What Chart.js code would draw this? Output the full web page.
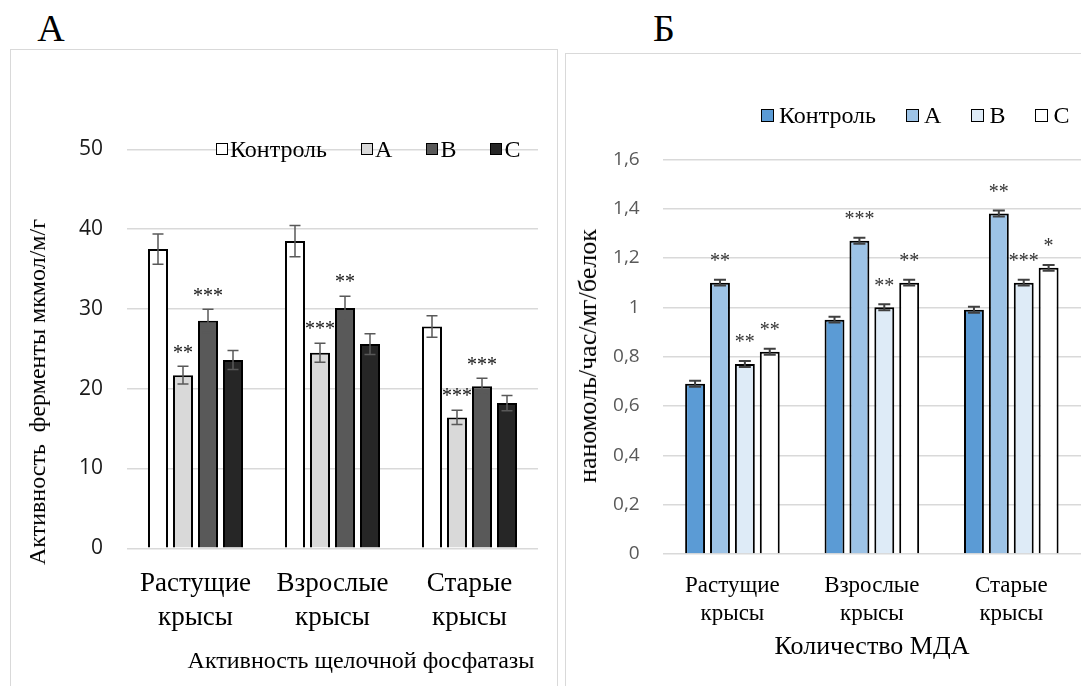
<!DOCTYPE html>
<html>
<head>
<meta charset="utf-8">
<script src="https://cdn.jsdelivr.net/npm/chart.js@4.4.1/dist/chart.umd.min.js"></script>
<style>
  body { margin: 0; background: #fff; width: 1081px; height: 686px; overflow: hidden; position: relative; font-family: 'Liberation Serif', 'Times New Roman', 'DejaVu Serif', serif; }
  .box { position: absolute; border: 1.5px solid #d9d9d9; }
  .lbl { position: absolute; transform: translate(-50%, -50%); white-space: pre; line-height: 1; color: #000; }
  .rot { transform: translate(-50%, -50%) rotate(-90deg); }
  .legend { position: absolute; display: flex; align-items: center; font-size: 24px; line-height: 1; }
  .legend .sq { display: inline-block; box-sizing: border-box; border: 1.5px solid #000; }
  canvas { position: absolute; }
</style>
</head>
<body>
<div class="box" style="left:10px; top:49px; width:546px; height:660px;"></div>
<div class="box" style="left:565px; top:53px; width:560px; height:660px;"></div>

<div class="lbl" style="left:51px; top:28px; font-size:38px;">А</div>
<div class="lbl" style="left:664px; top:28px; font-size:38px;">Б</div>

<canvas id="alpChart" width="545" height="636" style="left:11px; top:50px;"></canvas>
<canvas id="mdaChart" width="515" height="632" style="left:566px; top:54px;"></canvas>

<div class="lbl rot" style="left:37px; top:392px; font-size:24px;">Активность  ферменты мкмол/м/г</div>
<div class="lbl" style="left:361px; top:660px; font-size:24px;">Активность щелочной фосфатазы</div>
<div class="lbl rot" style="left:588px; top:356px; font-size:26px;">наномоль/час/мг/белок</div>
<div class="lbl" style="left:872px; top:646px; font-size:26px;">Количество МДА</div>

<div id="alpLegend" class="legend" style="left:216px; top:137px;"></div>
<div id="mdaLegend" class="legend" style="left:761px; top:103px;"></div>

<script>
// ---- данные ----
const categories = [['Растущие', 'крысы'], ['Взрослые', 'крысы'], ['Старые', 'крысы']];
const seriesNames = ['Контроль', 'А', 'В', 'С'];

// А: активность щелочной фосфатазы
const alpControl = [37.5, 38.5, 27.8];
const alpA = [21.7, 24.5, 16.4];
const alpB = [28.5, 30.1, 20.3];
const alpC = [23.6, 25.6, 18.2];
const alpControlErr = [1.9, 1.95, 1.35];
const alpAErr = [1.1, 1.2, 0.9];
const alpBErr = [1.45, 1.5, 1.0];
const alpCErr = [1.2, 1.3, 0.95];
const alpAStars = ['**', '***', '***'];
const alpBStars = ['***', '**', '***'];
const alpTicks = [0, 10, 20, 30, 40, 50];

// Б: количество МДА
const mdaControl = [0.69, 0.95, 0.99];
const mdaA = [1.10, 1.27, 1.38];
const mdaB = [0.77, 1.00, 1.10];
const mdaC = [0.82, 1.10, 1.16];
const mdaErr = [0.012, 0.012, 0.012];
const mdaAStars = ['**', '***', '**'];
const mdaBStars = ['**', '**', '***'];
const mdaCStars = ['**', '**', '*'];
const mdaTicks = [0, 0.2, 0.4, 0.6, 0.8, 1, 1.2, 1.4, 1.6];

const alpColors = ['#ffffff', '#d9d9d9', '#595959', '#262626'];
const mdaColors = ['#5b9bd5', '#9dc3e6', '#deebf7', '#ffffff'];

const serif = "'Liberation Serif', 'Times New Roman', serif";

// усы и звёздочки поверх столбцов
const errorBarsPlugin = {
  id: 'errorBars',
  afterDatasetsDraw(chart, args, opts) {
    const ctx = chart.ctx;
    const yScale = chart.scales.y;
    chart.data.datasets.forEach((ds, i) => {
      const meta = chart.getDatasetMeta(i);
      meta.data.forEach((bar, j) => {
        const v = ds.data[j];
        const e = ds.errors ? ds.errors[j] : 0;
        const yTop = yScale.getPixelForValue(v + e);
        const yBot = yScale.getPixelForValue(v - e);
        if (e) {
          ctx.save();
          ctx.strokeStyle = opts.color;
          ctx.lineWidth = opts.width;
          ctx.beginPath();
          ctx.moveTo(bar.x, yTop); ctx.lineTo(bar.x, yBot);
          ctx.moveTo(bar.x - opts.cap, yTop); ctx.lineTo(bar.x + opts.cap, yTop);
          ctx.moveTo(bar.x - opts.cap, yBot); ctx.lineTo(bar.x + opts.cap, yBot);
          ctx.stroke();
          ctx.restore();
        }
        const s = ds.stars ? ds.stars[j] : '';
        if (s) {
          ctx.save();
          ctx.fillStyle = opts.starColor;
          ctx.font = opts.starFont;
          ctx.textAlign = 'center';
          ctx.textBaseline = 'middle';
          ctx.fillText(s, bar.x, yTop - opts.starGap);
          ctx.restore();
        }
      });
    });
  }
};

function buildLegend(id, colors, sq, sqGap, itemGap) {
  const el = document.getElementById(id);
  seriesNames.forEach((name, i) => {
    const item = document.createElement('span');
    item.style.display = 'flex';
    item.style.alignItems = 'center';
    item.style.marginRight = itemGap + 'px';
    const box = document.createElement('span');
    box.className = 'sq';
    box.style.width = sq + 'px';
    box.style.height = sq + 'px';
    box.style.background = colors[i];
    box.style.marginRight = sqGap + 'px';
    item.appendChild(box);
    item.appendChild(document.createTextNode(name));
    el.appendChild(item);
  });
}

buildLegend('alpLegend', alpColors, 12, 2, 34);
buildLegend('mdaLegend', mdaColors, 13, 5, 30);

function makeDataset(label, data, color, errors, stars, cp) {
  return {
    label, data, errors, stars,
    backgroundColor: color,
    borderColor: '#000',
    borderWidth: 2,
    barPercentage: 0.8,
    categoryPercentage: cp
  };
}

Chart.defaults.animation = false;

const alpChart = new Chart(document.getElementById('alpChart'), {
  type: 'bar',
  data: {
    labels: categories,
    datasets: [
      makeDataset(seriesNames[0], alpControl, alpColors[0], alpControlErr, null, 0.73),
      makeDataset(seriesNames[1], alpA, alpColors[1], alpAErr, alpAStars, 0.73),
      makeDataset(seriesNames[2], alpB, alpColors[2], alpBErr, alpBStars, 0.73),
      makeDataset(seriesNames[3], alpC, alpColors[3], alpCErr, null, 0.73)
    ]
  },
  options: {
    responsive: false,
    layout: { padding: { top: 99.3, right: 18, left: 0, bottom: 0 } },
    plugins: {
      legend: { display: false },
      tooltip: { enabled: false },
      errorBars: { color: '#595959', width: 1.5, cap: 5.5, starColor: '#111', starFont: '20px ' + serif, starGap: 13 }
    },
    scales: {
      x: {
        grid: { display: false },
        border: { display: false },
        ticks: { color: '#000', padding: 11, font: { family: serif, size: 27, lineHeight: 1.24 } },
        afterFit: (s) => { s.height = 137.7; }
      },
      y: {
        min: 0,
        max: 50,
        afterBuildTicks: (s) => { s.ticks = alpTicks.map(v => ({ value: v })); },
        grid: { color: '#d9d9d9', lineWidth: 1.5, drawTicks: false },
        border: { display: false },
        ticks: { color: '#1a1a1a', padding: 24, font: { family: "'Open Sans'", size: 21 } },
        afterFit: (s) => { s.width = 116; }
      }
    }
  },
  plugins: [errorBarsPlugin]
});

const mdaChart = new Chart(document.getElementById('mdaChart'), {
  type: 'bar',
  data: {
    labels: categories,
    datasets: [
      makeDataset(seriesNames[0], mdaControl, mdaColors[0], mdaErr, null, 0.714),
      makeDataset(seriesNames[1], mdaA, mdaColors[1], mdaErr, mdaAStars, 0.714),
      makeDataset(seriesNames[2], mdaB, mdaColors[2], mdaErr, mdaBStars, 0.714),
      makeDataset(seriesNames[3], mdaC, mdaColors[3], mdaErr, mdaCStars, 0.714)
    ]
  },
  options: {
    responsive: false,
    layout: { padding: { top: 105.3, right: 0, left: 0, bottom: 0 } },
    plugins: {
      legend: { display: false },
      tooltip: { enabled: false },
      errorBars: { color: '#404040', width: 2, cap: 6, starColor: '#333', starFont: '20px ' + serif, starGap: 18 }
    },
    scales: {
      x: {
        grid: { display: false },
        border: { display: false },
        ticks: { color: '#000', padding: 10, font: { family: serif, size: 23, lineHeight: 1.23 } },
        afterFit: (s) => { s.height = 132; }
      },
      y: {
        min: 0,
        max: 1.6,
        afterBuildTicks: (s) => { s.ticks = mdaTicks.map(v => ({ value: v })); },
        grid: { color: '#d9d9d9', lineWidth: 1.5, drawTicks: false },
        border: { display: false },
        ticks: {
          color: '#595959', padding: 23, font: { family: "'Open Sans'", size: 19 },
          callback: (v) => String(Math.round(v * 10) / 10).replace('.', ',')
        },
        afterFit: (s) => { s.width = 96.7; }
      }
    }
  },
  plugins: [errorBarsPlugin]
});
</script>
</body>
</html>
